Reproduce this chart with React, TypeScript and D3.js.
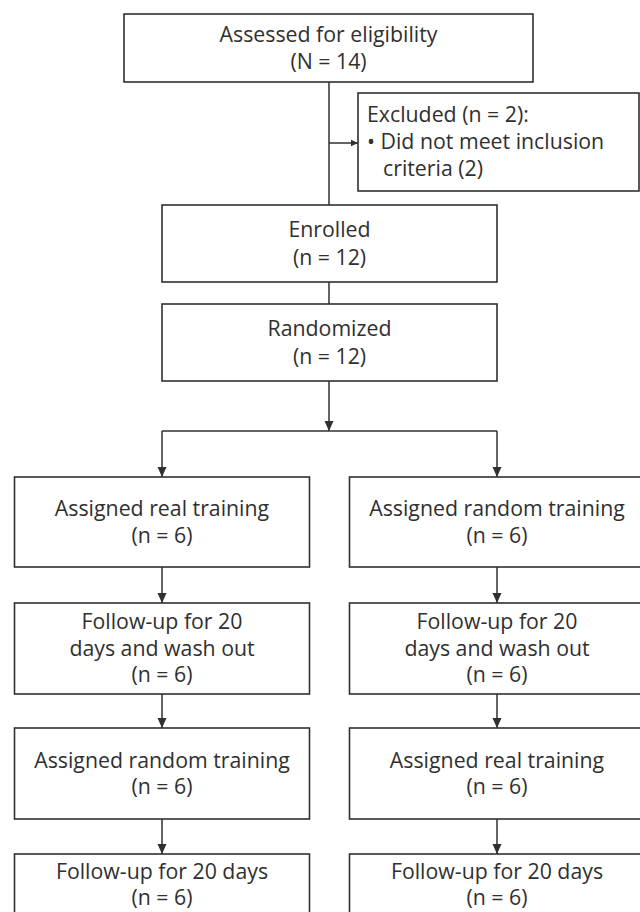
import React from 'react';
import * as d3 from 'd3';

// box texts, top to bottom
const screened = ['Assessed for eligibility', '(N = 14)'];
const excluded = ['Excluded (n = 2):', '• Did not meet inclusion', 'criteria (2)'];
const enrolled = ['Enrolled', '(n = 12)'];
const randomized = ['Randomized', '(n = 12)'];

const armLeft = [
  ['Assigned real training', '(n = 6)'],
  ['Follow-up for 20', 'days and wash out', '(n = 6)'],
  ['Assigned random training', '(n = 6)'],
  ['Follow-up for 20 days', '(n = 6)'],
];
const armRight = [
  ['Assigned random training', '(n = 6)'],
  ['Follow-up for 20', 'days and wash out', '(n = 6)'],
  ['Assigned real training', '(n = 6)'],
  ['Follow-up for 20 days', '(n = 6)'],
];

const W = 640;
const H = 912;
const FONT = "'Open Sans', 'Noto Sans', sans-serif";
const INK = '#303030';
const FS = 21.3;

// layout
const spineX = 329;
const armRows = [[477, 567], [603, 694], [728, 819], [854, 915]];
const colX = d3.scaleOrdinal<string, number>().domain(['left', 'right']).range([162, 497]);
const armHalf = 147.5;

const Box = ({ x0, x1, y0, y1, lines, align = 'middle', lh = 26.5 }) => {
  const cy = (y0 + y1) / 2;
  const start = cy - ((lines.length - 1) * lh) / 2;
  const tx = align === 'middle' ? (x0 + x1) / 2 : x0 + 9;
  return (
    <g>
      <rect x={x0} y={y0} width={x1 - x0} height={y1 - y0} fill="#fff" stroke={INK} strokeWidth={1.6} />
      {lines.map((l, i) => (
        <text
          key={i}
          x={tx + (align === 'start' && i === 2 ? 16 : 0)}
          y={start + i * lh}
          dy="0.35em"
          textAnchor={align}
          fontFamily={FONT}
          fontSize={FS}
          fill={INK}
        >
          {l}
        </text>
      ))}
    </g>
  );
};

const Arrow = ({ pts, size = 10 }) => {
  const line = d3.line();
  const [xa, ya] = pts[pts.length - 2];
  const [xb, yb] = pts[pts.length - 1];
  const ang = Math.atan2(yb - ya, xb - xa);
  const w = size * 0.45;
  const head = [
    [xb, yb],
    [xb - size * Math.cos(ang) + w * Math.sin(ang), yb - size * Math.sin(ang) - w * Math.cos(ang)],
    [xb - size * Math.cos(ang) - w * Math.sin(ang), yb - size * Math.sin(ang) + w * Math.cos(ang)],
  ];
  return (
    <g>
      <path d={line(pts)} fill="none" stroke={INK} strokeWidth={1.5} />
      <path d={line(head) + 'Z'} fill={INK} />
    </g>
  );
};

const App = () => {
  const branchY = 431;
  return (
    <svg width={W} height={H} style={{ position: 'absolute', left: 0, top: 0, background: '#fff' }}>
      {/* spine */}
      <path d={d3.line()([[spineX, 82], [spineX, 205]])} stroke={INK} strokeWidth={1.5} />
      <path d={d3.line()([[spineX, 282], [spineX, 304]])} stroke={INK} strokeWidth={1.5} />
      <Arrow pts={[[spineX, 143], [358, 143]]} size={7} />
      <Arrow pts={[[spineX, 381], [spineX, branchY]]} />
      <path d={d3.line()([[colX('left'), branchY], [colX('right'), branchY]])} stroke={INK} strokeWidth={1.5} fill="none" />

      <Box x0={124} x1={533} y0={14} y1={82} lines={screened} lh={27} />
      <Box x0={358} x1={639} y0={93} y1={191} lines={excluded} align="start" lh={27} />
      <Box x0={162} x1={497} y0={205} y1={282} lines={enrolled} lh={28} />
      <Box x0={162} x1={497} y0={304} y1={381} lines={randomized} lh={28} />

      {[['left', armLeft], ['right', armRight]].map(([side, arm]) => {
        const cx = colX(side as string);
        return (
          <g key={side as string}>
            <Arrow pts={[[cx, branchY], [cx, armRows[0][0]]]} />
            {(arm as string[][]).map((lines, i) => (
              <g key={i}>
                {i > 0 && <Arrow pts={[[cx, armRows[i - 1][1]], [cx, armRows[i][0]]]} />}
                <Box x0={cx - armHalf} x1={cx + armHalf} y0={armRows[i][0]} y1={armRows[i][1]} lines={lines} />
              </g>
            ))}
          </g>
        );
      })}
    </svg>
  );
};

export default App;
